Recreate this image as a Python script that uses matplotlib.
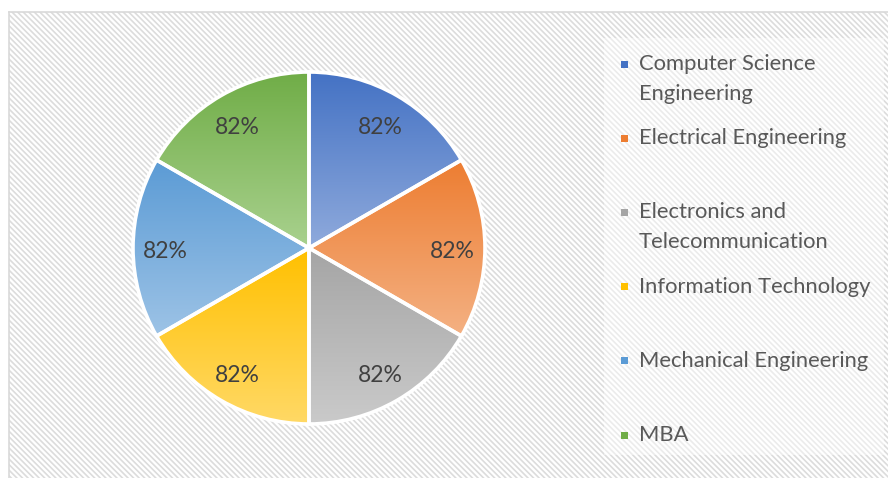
import numpy as np
import matplotlib
matplotlib.use("Agg")
import matplotlib.pyplot as plt
import matplotlib.transforms as mtransforms
from matplotlib.patches import Rectangle
from matplotlib.colors import to_rgb

# ---- data ----
categories = ["Computer Science\nEngineering", "Electrical Engineering",
              "Electronics and\nTelecommunication", "Information Technology",
              "Mechanical Engineering", "MBA"]
values = [82, 82, 82, 82, 82, 82]
top_colors = ["#4472C4", "#ED7D31", "#A5A5A5", "#FFC000", "#5B9BD5", "#70AD47"]
bottom_colors = ["#8FAADC", "#F4B183", "#CACACA", "#FFD966", "#9DC3E6", "#A9D18E"]

plt.rcParams['hatch.linewidth'] = 1.2
W, H = 888, 478
fig = plt.figure(figsize=(W / 100, H / 100), dpi=100)
fig.patch.set_facecolor("white")

def fx(px):
    return px / W

def fy(py):
    return 1 - py / H

# hatched chart background
bg = Rectangle((fx(9), 0), 1, fy(12), transform=fig.transFigure,
               facecolor="white", edgecolor="#DCDCDC", hatch="\\" * 6,
               linewidth=0, zorder=0)
fig.add_artist(bg)
fig.add_artist(plt.Line2D([fx(9), fx(9)], [0, fy(12)], transform=fig.transFigure,
                          color="#D9D9D9", lw=1.2, zorder=1))
fig.add_artist(plt.Line2D([fx(9), 1], [fy(12), fy(12)], transform=fig.transFigure,
                          color="#D9D9D9", lw=1.2, zorder=1))

# legend panel (lighter)
lp = Rectangle((fx(604), fy(455)), fx(884) - fx(604), fy(38) - fy(455),
               transform=fig.transFigure, facecolor="white", alpha=0.45,
               edgecolor="none", zorder=1)
fig.add_artist(lp)

# pie axes
cx, cy, r = 309, 248, 176
ax = fig.add_axes([fx(cx - r), fy(cy + r), (2 * r) / W, (2 * r) / H])
ax.set_facecolor("none")
ax.patch.set_alpha(0)

wedges, texts, autotexts = ax.pie(
    values, startangle=90, counterclock=False, radius=1,
    autopct=lambda p: "%d%%" % round(p * sum(values) / 100),
    pctdistance=0.815,
    wedgeprops=dict(edgecolor="white", linewidth=2.6),
    textprops=dict(fontsize=16.5, color="#404040", family="Lato"))

for w, c1, c2 in zip(wedges, top_colors, bottom_colors):
    verts = w.get_path().vertices
    x0, x1 = verts[:, 0].min(), verts[:, 0].max()
    y0, y1 = verts[:, 1].min(), verts[:, 1].max()
    n = 256
    t = np.linspace(0, 1, n)[:, None]
    a, b = np.array(to_rgb(c1)), np.array(to_rgb(c2))
    grad = (a[None, :] * (1 - t) + b[None, :] * t)[:, None, :]
    im = ax.imshow(grad, extent=(x0, x1, y0, y1), origin="upper",
                   aspect="auto", zorder=2, interpolation="bilinear")
    im.set_clip_path(w)
    w.set_facecolor("none")
    w.set_zorder(3)
shift = mtransforms.ScaledTranslation(0, -0.035, fig.dpi_scale_trans)
for t_ in autotexts:
    t_.set_zorder(5)
    t_.set_transform(ax.transData + shift)
ax.set_xlim(-1.0, 1.0)
ax.set_ylim(-1.0, 1.0)
ax.set_aspect("equal")
ax.axis("off")

# legend (manual, Excel-like layout)
y_start, y_step, line_gap = 64, 74.2, 30
for i, (lab, col) in enumerate(zip(categories, top_colors)):
    yc = y_start + i * y_step
    fig.add_artist(Rectangle((fx(621), fy(yc + 3.5)), 7 / W, 7 / H,
                             transform=fig.transFigure, facecolor=col,
                             edgecolor="none", zorder=3))
    for j, line in enumerate(lab.split("\n")):
        fig.text(fx(639), fy(yc + j * line_gap), line, fontsize=15.8,
                 family="Lato", color="#595959", va="center", ha="left",
                 zorder=4)

fig.savefig("out.png", dpi=100)
